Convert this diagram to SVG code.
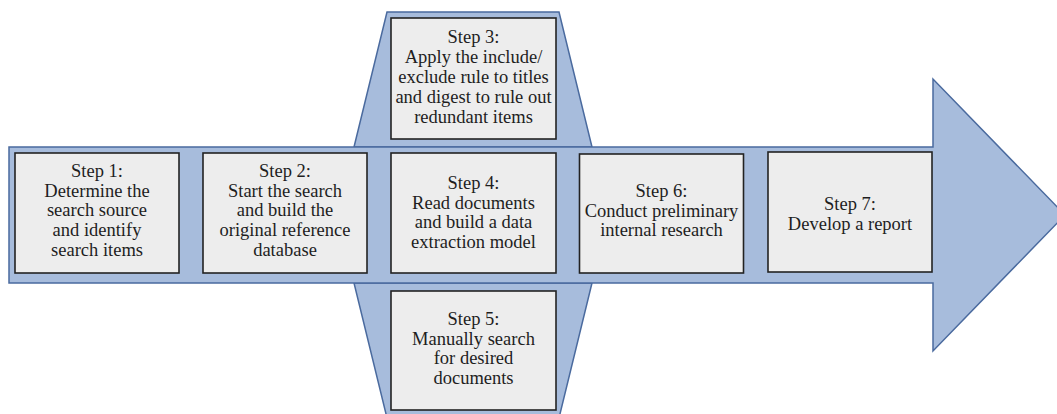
<svg xmlns="http://www.w3.org/2000/svg" width="1057" height="414" viewBox="0 0 1057 414">
<style>
.shape{fill:#A7BCDC;stroke:#4A6A9E;stroke-width:1.5;stroke-linejoin:miter}
.box{fill:#EDEDED;stroke:#222;stroke-width:1.6}
text{font-family:'Liberation Serif','Times New Roman','DejaVu Serif',serif;font-size:18.5px;fill:#1e1e1e;text-anchor:middle}
</style>
<rect width="1057" height="414" fill="#fff"/>
<g id="backbone">
<polygon class="shape" points="387,12 559,12 592,147 354,147"/>
<polygon class="shape" points="354,283 592,283 559,418 387,418"/>
<polygon class="shape" points="9,147 933,147 933,79 1065,215 933,351 933,283 9,283"/>
</g>
<g id="connectors"></g>
<g id="step1">
<rect class="box" x="15" y="153" width="164" height="120"/>
<text font-family="Liberation Serif, serif"><tspan x="97" y="177">Step 1:</tspan><tspan x="97" y="196.7">Determine the</tspan><tspan x="97" y="216.4">search source</tspan><tspan x="97" y="236.1">and identify</tspan><tspan x="97" y="255.8">search items</tspan></text>
</g>
<g id="step2">
<rect class="box" x="203" y="153" width="164" height="120"/>
<text font-family="Liberation Serif, serif"><tspan x="285" y="177">Step 2:</tspan><tspan x="285" y="196.7">Start the search</tspan><tspan x="285" y="216.4">and build the</tspan><tspan x="285" y="236.1">original reference</tspan><tspan x="285" y="255.8">database</tspan></text>
</g>
<g id="step3">
<rect class="box" x="391" y="18" width="165" height="121"/>
<text font-family="Liberation Serif, serif"><tspan x="473.5" y="43.3">Step 3:</tspan><tspan x="473.5" y="63.1">Apply the include/</tspan><tspan x="473.5" y="82.9">exclude rule to titles</tspan><tspan x="473.5" y="102.7">and digest to rule out</tspan><tspan x="473.5" y="122.5">redundant items</tspan></text>
</g>
<g id="step4">
<rect class="box" x="391" y="153" width="165" height="120"/>
<text font-family="Liberation Serif, serif"><tspan x="473.5" y="189">Step 4:</tspan><tspan x="473.5" y="208.7">Read documents</tspan><tspan x="473.5" y="228.4">and build a data</tspan><tspan x="473.5" y="248.1">extraction model</tspan></text>
</g>
<g id="step5">
<rect class="box" x="391" y="291" width="165" height="119"/>
<text font-family="Liberation Serif, serif"><tspan x="473.5" y="325">Step 5:</tspan><tspan x="473.5" y="344.7">Manually search</tspan><tspan x="473.5" y="364.4">for desired</tspan><tspan x="473.5" y="384.1">documents</tspan></text>
</g>
<g id="step6">
<rect class="box" x="579.5" y="154" width="164" height="119"/>
<text font-family="Liberation Serif, serif"><tspan x="661.5" y="196.7">Step 6:</tspan><tspan x="661.5" y="216.5">Conduct preliminary</tspan><tspan x="661.5" y="236.3">internal research</tspan></text>
</g>
<g id="step7">
<rect class="box" x="768" y="152" width="164" height="120"/>
<text font-family="Liberation Serif, serif"><tspan x="850" y="210">Step 7:</tspan><tspan x="850" y="229.5">Develop a report</tspan></text>
</g>
</svg>
